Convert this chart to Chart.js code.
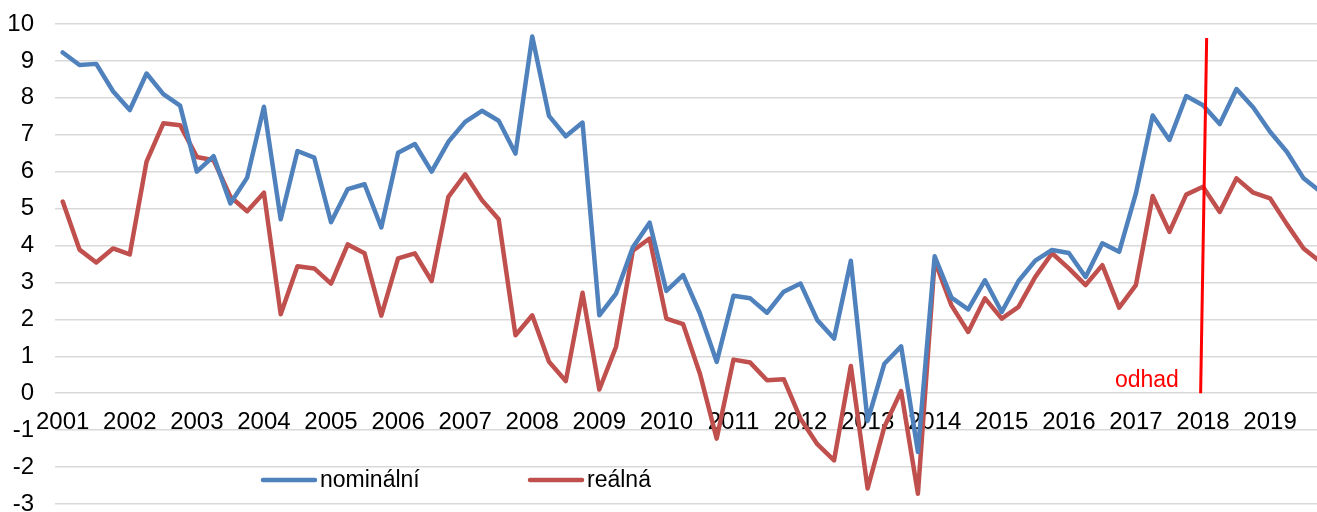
<!DOCTYPE html>
<html>
<head>
<meta charset="utf-8">
<script src="https://cdn.jsdelivr.net/npm/chart.js@4/dist/chart.umd.min.js"></script>
<style>
    html, body { margin: 0; padding: 0; background: #fff; }
    #wrap { width: 1317px; height: 512px; position: relative; }
</style>
</head>
<body>
<div id="wrap"><canvas id="chart"></canvas></div>
<script>
// year labels, one per 4 quarters
var years = ['2001', '2002', '2003', '2004', '2005', '2006', '2007', '2008', '2009', '2010',
    '2011', '2012', '2013', '2014', '2015', '2016', '2017', '2018', '2019'];

// quarterly values, 2001 Q1 .. 2019 Q4
var nominal = [
    9.23, 8.89, 8.92, 8.18,
    7.67, 8.66, 8.10, 7.79,
    6.00, 6.42, 5.14, 5.84,
    7.76, 4.71, 6.56, 6.38,
    4.63, 5.53, 5.66, 4.49,
    6.51, 6.75, 6.00, 6.81,
    7.35, 7.65, 7.38, 6.49,
    9.66, 7.51, 6.96, 7.33,
    2.11, 2.70, 3.95, 4.62,
    2.77, 3.20, 2.16, 0.85,
    2.64, 2.57, 2.18, 2.75,
    2.97, 1.98, 1.48, 3.59,
    -0.75, 0.80, 1.27, -1.59,
    3.71, 2.59, 2.27, 3.06,
    2.20, 3.04, 3.59, 3.88,
    3.80, 3.15, 4.06, 3.83,
    5.41, 7.52, 6.86, 8.05,
    7.80, 7.29, 8.24, 7.74,
    7.08, 6.54, 5.82, 5.46
];
var real = [
    5.19, 3.89, 3.54, 3.92,
    3.76, 6.27, 7.31, 7.26,
    6.40, 6.31, 5.32, 4.93,
    5.43, 2.14, 3.44, 3.38,
    2.97, 4.03, 3.79, 2.10,
    3.65, 3.79, 3.04, 5.32,
    5.93, 5.23, 4.71, 1.57,
    2.11, 0.85, 0.33, 2.72,
    0.10, 1.26, 3.86, 4.19,
    2.02, 1.87, 0.53, -1.23,
    0.91, 0.83, 0.35, 0.38,
    -0.69, -1.38, -1.82, 0.74,
    -2.58, -0.91, 0.06, -2.72,
    3.59, 2.38, 1.66, 2.57,
    2.02, 2.34, 3.15, 3.79,
    3.38, 2.93, 3.47, 2.32,
    2.93, 5.34, 4.37, 5.38,
    5.59, 4.91, 5.82, 5.43,
    5.28, 4.58, 3.92, 3.56
];

var seriesNames = ['nominální', 'reálná'];
var seriesColors = ['#4f81bd', '#c0504d'];

// forecast marker (in quarter index / value units)
var forecastLine = { x0: 67.86, y0: 0, x1: 68.22, y1: 9.62 };
var forecastText = { label: 'odhad', x: 62.75, y: 0.16 };

var fontFamily = "Arial, 'Liberation Sans', sans-serif";

function toPoints(values) {
    return values.map(function (v, i) {
        return { x: i, y: v };
    });
}

var forecastPlugin = {
    id: 'forecast',
    afterDatasetsDraw: function (chart) {
        var ctx = chart.ctx;
        var xs = chart.scales.x;
        var ys = chart.scales.y;
        ctx.save();
        ctx.strokeStyle = '#ff0000';
        ctx.lineWidth = 3;
        ctx.beginPath();
        ctx.moveTo(xs.getPixelForValue(forecastLine.x0), ys.getPixelForValue(forecastLine.y0));
        ctx.lineTo(xs.getPixelForValue(forecastLine.x1), ys.getPixelForValue(forecastLine.y1));
        ctx.stroke();
        ctx.fillStyle = '#ff0000';
        ctx.font = '23px ' + fontFamily;
        ctx.textAlign = 'left';
        ctx.textBaseline = 'alphabetic';
        ctx.fillText(forecastText.label, xs.getPixelForValue(forecastText.x), ys.getPixelForValue(forecastText.y));
        ctx.restore();
    }
};

// legend drawn inside the plot, near the bottom
var innerLegend = {
    id: 'innerLegend',
    afterDraw: function (chart) {
        var ctx = chart.ctx;
        var area = chart.chartArea;
        var y = area.bottom - 24;
        var starts = [area.left + 208, area.left + 475];
        ctx.save();
        ctx.font = '23px ' + fontFamily;
        ctx.textBaseline = 'middle';
        ctx.textAlign = 'left';
        chart.data.datasets.forEach(function (ds, k) {
            var x = starts[k];
            ctx.strokeStyle = ds.borderColor;
            ctx.lineWidth = 4.5;
            ctx.lineCap = 'round';
            ctx.beginPath();
            ctx.moveTo(x, y);
            ctx.lineTo(x + 52, y);
            ctx.stroke();
            ctx.fillStyle = '#000';
            ctx.fillText(ds.label, x + 57, y + 1);
        });
        ctx.restore();
    }
};

var ctx = document.getElementById('chart');
var myChart = new Chart(ctx, {
    type: 'line',
    data: {
        datasets: [
            {
                label: seriesNames[0],
                data: toPoints(nominal),
                borderColor: seriesColors[0],
                backgroundColor: seriesColors[0],
                borderWidth: 4.5,
                pointRadius: 0,
                borderJoinStyle: 'round',
                borderCapStyle: 'round',
                tension: 0
            },
            {
                label: seriesNames[1],
                data: toPoints(real),
                borderColor: seriesColors[1],
                backgroundColor: seriesColors[1],
                borderWidth: 4.5,
                pointRadius: 0,
                borderJoinStyle: 'round',
                borderCapStyle: 'round',
                tension: 0
            }
        ]
    },
    options: {
        responsive: true,
        maintainAspectRatio: false,
        animation: false,
        layout: {
            padding: { top: 24, bottom: 8, left: 0, right: 0 }
        },
        plugins: {
            legend: { display: false },
            tooltip: { enabled: false }
        },
        scales: {
            x: {
                type: 'linear',
                position: { y: 0 },
                min: -0.46,
                max: 74.8,
                grid: { display: false, drawTicks: false },
                border: { display: false },
                afterBuildTicks: function (axis) {
                    axis.ticks = years.map(function (y, k) {
                        return { value: k * 4 };
                    });
                },
                afterFit: function (axis) {
                    axis.height = 0;
                    axis.paddingLeft = 0;
                    axis.paddingRight = 0;
                },
                ticks: {
                    autoSkip: false,
                    maxRotation: 0,
                    padding: 15,
                    color: '#000',
                    font: { family: fontFamily, size: 24 },
                    callback: function (value) {
                        return years[Math.round(value / 4)];
                    }
                }
            },
            y: {
                min: -3,
                max: 10,
                afterFit: function (axis) {
                    axis.width = 55;
                    axis.paddingTop = 0;
                    axis.paddingBottom = 0;
                },
                grid: { color: '#d9d9d9', lineWidth: 1.5, drawTicks: false },
                border: { display: false },
                ticks: {
                    stepSize: 1,
                    padding: 21,
                    color: '#000',
                    font: { family: fontFamily, size: 24 }
                }
            }
        }
    },
    plugins: [forecastPlugin, innerLegend]
});
</script>
</body>
</html>
